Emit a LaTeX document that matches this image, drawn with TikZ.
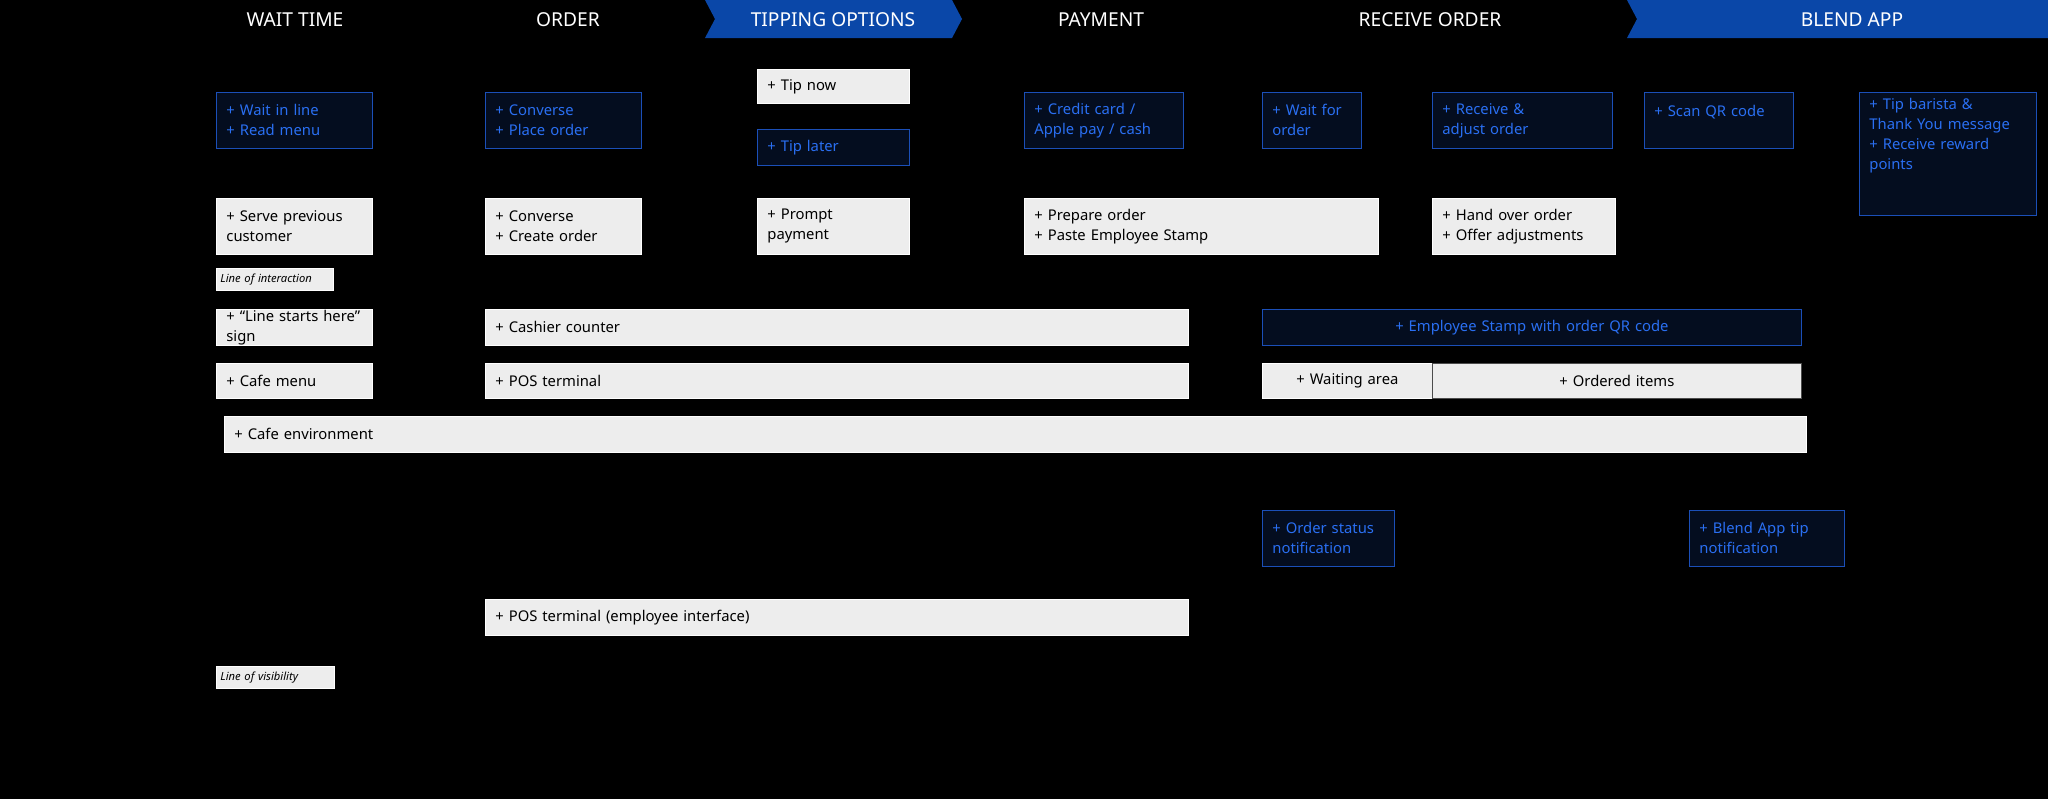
\documentclass[tikz,border=0pt]{standalone}
\usepackage{fontspec}
\setmainfont{Noto Sans}
\usetikzlibrary{calc,backgrounds,arrows.meta}
\definecolor{bluetxt}{HTML}{2A6FF2}
\definecolor{blueline}{HTML}{1E5FE0}
\definecolor{bluefill}{HTML}{050E22}
\definecolor{blueedge}{HTML}{1B4FB8}
\definecolor{banner}{HTML}{0A47A8}
\definecolor{greyline}{HTML}{8A8A8A}
\begin{document}
\begin{tikzpicture}[
    x=0.5pt, y=-0.5pt,
    every node/.style={font=\fontsize{7.4}{10}\selectfont},
    wbox/.style={draw=white, fill=white, fill opacity=0.93, text opacity=1, text=black, anchor=north west, inner xsep=5pt, inner ysep=0pt, align=left},
    bbox/.style={draw=blueedge, fill=bluefill, fill opacity=0.93, text opacity=1, text=bluetxt, anchor=north west, inner xsep=5pt, inner ysep=0pt, align=left, font=\fontsize{7.4}{10}\selectfont\bfseries},
    tag/.style={wbox, font=\fontsize{5.6}{7}\selectfont\itshape, inner xsep=2pt},
    head/.style={text=white, font=\fontsize{9.6}{11}\selectfont},
    bline/.style={blueline, thick, -{Latex[length=4pt,width=3.5pt]}},
    bflat/.style={blueline, thick},
    gline/.style={greyline, semithick, -{Latex[length=3.5pt,width=3pt]}},
    gflat/.style={greyline, semithick}
    ]
    \useasboundingbox (0,0) rectangle (2048,799);
    \fill[black] (0,0) rectangle (2048,799);
    % Phase headings
    \fill[banner] (705,0) -- (952,0) -- (962,19) -- (952,38) -- (705,38) -- (715,19) -- cycle;
    \fill[banner] (1627,0) -- (2048,0) -- (2048,38) -- (1627,38) -- (1637,19) -- cycle;
    \node[head] (hwait) at (295,20) {WAIT TIME};
    \node[head] (horder) at (568,20) {ORDER};
    \node[head] (htip) at (833,20) {TIPPING OPTIONS};
    \node[head] (hpay) at (1101,20) {PAYMENT};
    \node[head] (hrecv) at (1430,20) {RECEIVE ORDER};
    \node[head] (happ) at (1852,20) {BLEND APP};
    % Customer actions
    \node[bbox, minimum width=78pt, minimum height=28pt, text width=68pt] (wait) at (216,92) {+ Wait in line\\+ Read menu};
    \node[bbox, minimum width=78pt, minimum height=28pt, text width=68pt] (conv) at (485,92) {+ Converse\\+ Place order};
    \node[wbox, minimum width=76pt, minimum height=17pt, text width=66pt] (tipnow) at (757,69) {+ Tip now};
    \node[bbox, minimum width=76pt, minimum height=18pt, text width=66pt] (tiplater) at (757,129) {+ Tip later};
    \node[bbox, minimum width=79.5pt, minimum height=28pt, text width=69.5pt] (credit) at (1024,92) {+ Credit card /\\Apple pay / cash};
    \node[bbox, minimum width=49.5pt, minimum height=28pt, text width=39.5pt] (waitfor) at (1262,92) {+ Wait for\\order};
    \node[bbox, minimum width=90pt, minimum height=28pt, text width=80pt] (recv) at (1432,92) {+ Receive \&\\adjust order};
    \node[bbox, minimum width=74.5pt, minimum height=28pt, text width=64.5pt] (scan) at (1644,92) {+ Scan QR code\\\mbox{}};
    \node[bbox, minimum width=88.5pt, minimum height=61.5pt, text width=78.5pt] (barista) at (1859,92) {+ Tip barista \&\\Thank You message\\+ Receive reward\\points\\\mbox{}\\\mbox{}};
    % Frontstage
    \node[wbox, minimum width=78pt, minimum height=28pt, text width=68pt] (serve) at (216,198) {+ Serve previous\\customer};
    \node[wbox, minimum width=78pt, minimum height=28pt, text width=68pt] (create) at (485,198) {+ Converse\\+ Create order};
    \node[wbox, minimum width=76pt, minimum height=28pt, text width=66pt] (prompt) at (757,198) {+ Prompt\\payment};
    \node[wbox, minimum width=177pt, minimum height=28pt, text width=167pt] (prepare) at (1024,198) {+ Prepare order\\+ Paste Employee Stamp};
    \node[wbox, minimum width=91.5pt, minimum height=28pt, text width=81.5pt] (hand) at (1432,198) {+ Hand over order\\+ Offer adjustments};
    \node[tag, minimum width=58.5pt, minimum height=11pt, text width=54.5pt] (interact) at (216,268) {Line of interaction};
    % Physical evidence
    \node[wbox, minimum width=78pt, minimum height=18pt, text width=68pt] (linesign) at (216,309) {+ “Line starts here” sign};
    \node[wbox, minimum width=351.5pt, minimum height=18pt, text width=341.5pt] (counter) at (485,309) {+ Cashier counter};
    \node[bbox, minimum width=269.5pt, minimum height=18pt, text width=259.5pt, align=center] (stamp) at (1262,309) {+ Employee Stamp with order QR code};
    \node[wbox, minimum width=78pt, minimum height=17.5pt, text width=68pt] (menu) at (216,363) {+ Cafe menu};
    \node[wbox, minimum width=351.5pt, minimum height=17.5pt, text width=341.5pt] (pos) at (485,363) {+ POS terminal};
    \node[wbox, minimum width=85pt, minimum height=17.5pt, text width=75pt, align=center] (waitarea) at (1262,363) {+ Waiting area};
    \node[wbox, minimum width=184.5pt, minimum height=17.5pt, text width=174.5pt, align=center, draw=black!70] (items) at (1432,363) {+ Ordered items};
    \node[wbox, minimum width=791pt, minimum height=18pt, text width=781pt] (cafe) at (224,416) {+ Cafe environment};
    % Backstage
    \node[bbox, minimum width=66pt, minimum height=28pt, text width=56pt] (ostatus) at (1262,510) {+ Order status\\notification};
    \node[bbox, minimum width=77.5pt, minimum height=28pt, text width=67.5pt] (btip) at (1689,510) {+ Blend App tip\\notification};
    \node[wbox, minimum width=351.5pt, minimum height=18pt, text width=341.5pt] (posemp) at (485,599) {+ POS terminal (employee interface)};
    \node[tag, minimum width=59pt, minimum height=11pt, text width=55pt] (visib) at (216,666) {Line of visibility};
    % Free ends
    \coordinate (split) at (703,120);
    \coordinate (join) at (965,120);
    \coordinate (fa) at (1700,187);
    \coordinate (fb) at (1806,187);
    \coordinate (tb) at (1746,217);
    \coordinate (bd) at (1950,568);
    \coordinate (b1) at (563,757);
    \coordinate (b2) at (1325,757);
    \coordinate (b3) at (1746,757);
    % Connectors
    \begin{scope}[on background layer]
    \fill[black] (0,0) rectangle (2048,799);
    \draw[bline] (wait) -- (conv);
    \draw[bflat] (conv.east) -- (split);
    \draw[gline, rounded corners=5pt] (split) |- (tipnow.west);
    \draw[bline, rounded corners=5pt] (split) |- (tiplater.west);
    \draw[gflat, rounded corners=5pt] (tipnow.east) -| (join);
    \draw[bflat, rounded corners=5pt] (tiplater.east) -| (join);
    \draw[bline] (join) -- (credit.west);
    \draw[bline] (credit) -- (waitfor);
    \draw[bline] (waitfor) -- (recv);
    \draw[bline] (recv) -- (scan);
    \draw[bline] (scan.east) -- (scan.east -| barista.west);
    \draw[gline, rounded corners=5pt] ($(recv.east)+(10,0)$) |- (fa);
    \draw[gflat, rounded corners=5pt] (fb) -| ($(scan.east)+(36,0)$);
    \draw[gline, {Latex[length=3.5pt,width=3pt]}-] (conv.south) -- (create.north);
    \draw[gline] (create) -- (prompt);
    \draw[gline] (prompt) -- (prepare);
    \draw[gline] (prepare) -- (hand);
    \draw[gline] (hand.north -| recv.south) -- (recv.south);
    \draw[gline] ($(prepare.south east)+(-56,0)$) coordinate (pp) -- (pp |- stamp.north);
    \draw[gline, rounded corners=5pt] (posemp.east) -- ++(34,0) |- (stamp.west);
    \draw[gline] (posemp.north) -- (create.south);
    \draw[gline] (b1) -- (posemp.south);
    \draw[gline] (b2) -- (b2 |- ostatus.south);
    \draw[gline] (b3) -- (b3 |- btip.south);
    \draw[gline] (b3 |- btip.north) -- (tb);
    \draw[gline] ($(stamp.north west)+(406,0)$) coordinate (ss) -- (ss |- scan.south);
    \draw[gline] (barista.south -| bd) -- (bd);
    \end{scope}
\end{tikzpicture}
\end{document}
